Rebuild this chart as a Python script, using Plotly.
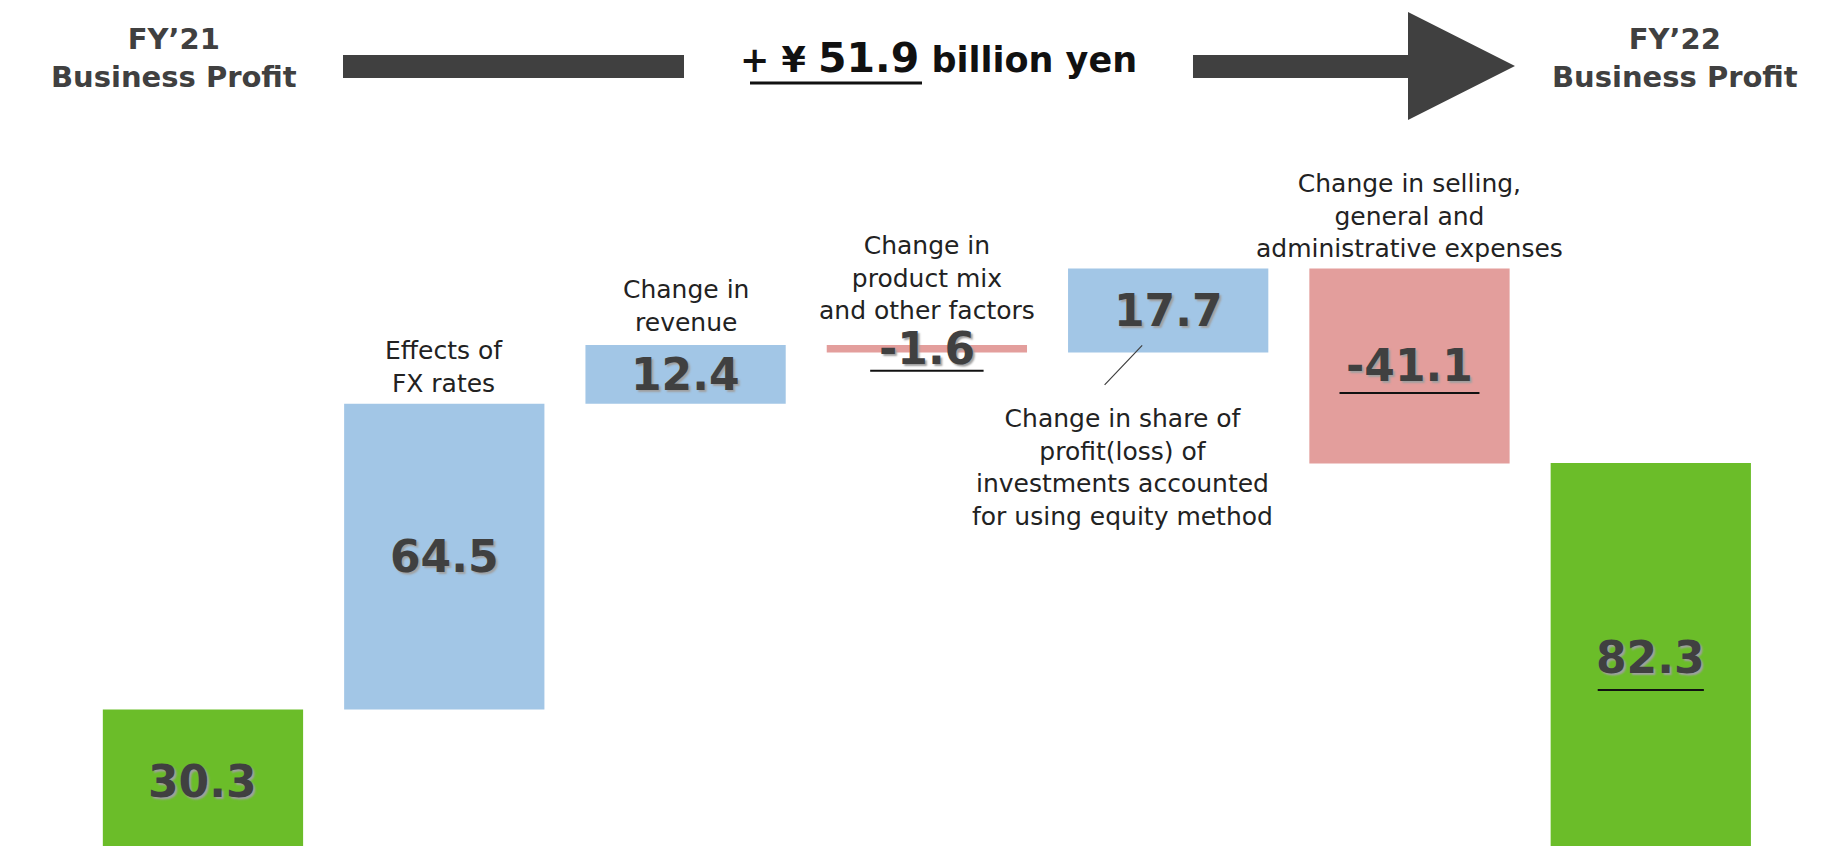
import plotly.graph_objects as go

# data (billion yen)
categories = ["FY'21", "FX", "Revenue", "Mix", "Equity", "SG&A", "FY'22"]
values = [30.3, 64.5, 12.4, -1.6, 17.7, -41.1, 82.3]
measures = ["absolute", "relative", "relative", "relative", "relative", "relative", "absolute"]
value_labels = ["30.3", "64.5", "12.4", "-1.6", "17.7", "-41.1", "82.3"]
top_labels = {
    "FX": "Effects of<br>FX rates",
    "Revenue": "Change in<br>revenue",
    "Mix": "Change in<br>product mix<br>and other factors",
    "SG&A": "Change in selling,<br>general and<br>administrative expenses",
}
equity_label = "Change in share of<br>profit(loss) of<br>investments accounted<br>for using equity method"
# half width (in bar units) and pixel drop of the underline below the value
underlined = {"Mix": (0.235, -22), "SG&A": (0.29, -27), "FY'22": (0.22, -32)}

# page body has an 8px margin, so the figure is a bit smaller than the window
OFF = 8
W, H = 1846 - OFF, 846 - OFF
GREEN = "#6bbd29"
BLUE = "#a2c6e6"
PINK = "#e39e9c"
DARK = "#404040"
FONT = "DejaVu Sans"


def px(x):
    return (x - OFF) / W


def py(y):
    return 1 - (y - OFF) / H


# bar start / end positions from the running total
starts, ends = [], []
run = 0.0
for m, v in zip(measures, values):
    if m == "absolute":
        s, e = 0.0, v
    else:
        s, e = run, run + v
    starts.append(s)
    ends.append(e)
    run = e

fig = go.Figure(go.Waterfall(
    x=categories,
    y=values,
    measure=measures,
    width=0.83,
    increasing=dict(marker=dict(color=BLUE)),
    decreasing=dict(marker=dict(color=PINK)),
    totals=dict(marker=dict(color=GREEN)),
    connector=dict(visible=False),
    hoverinfo="skip",
))

annotations = []
shapes = []

for cat, s, e, lab in zip(categories, starts, ends, value_labels):
    mid = (s + e) / 2
    annotations.append(dict(
        x=cat, y=mid, text=f"<b>{lab}</b>", showarrow=False,
        font=dict(family=FONT, size=44, color=DARK, shadow="2px 2px 2px #a0a0a0"),
        xanchor="center", yanchor="middle",
    ))
    if cat in underlined:
        i = categories.index(cat)
        hw, drop = underlined[cat]
        shapes.append(dict(
            type="line", xref="x", yref="y", x0=i - hw, x1=i + hw,
            y0=drop, y1=drop, ysizemode="pixel", yanchor=mid,
            line=dict(color="#111111", width=2),
        ))

label_shift = {"FX": 4, "Revenue": 6, "Mix": 18, "SG&A": 4}
for cat, txt in top_labels.items():
    i = categories.index(cat)
    annotations.append(dict(
        x=cat, y=max(starts[i], ends[i]), text=txt, showarrow=False,
        font=dict(family=FONT, size=25, color="#222222"),
        xanchor="center", yanchor="bottom", yshift=label_shift[cat],
    ))

# callout for the equity-method bar
i_eq = categories.index("Equity")
annotations.append(dict(
    x="Equity", y=starts[i_eq] + 1.5, xshift=-26, text="", showarrow=True,
    arrowhead=0, arrowwidth=1.2, arrowcolor="#404040", ax=-39, ay=41,
))
annotations.append(dict(
    x="Equity", y=starts[i_eq], xshift=-46, yshift=-50, text=equity_label, showarrow=False,
    font=dict(family=FONT, size=25, color="#222222"),
    xanchor="center", yanchor="top",
))

# header
for cx, txt in [(174, "FY’21<br>Business Profit"), (1675, "FY’22<br>Business Profit")]:
    annotations.append(dict(
        xref="paper", yref="paper", x=px(cx), y=py(58), text=f"<b>{txt}</b>",
        showarrow=False, font=dict(family=FONT, size=29, color=DARK),
        xanchor="center", yanchor="middle",
    ))
annotations.append(dict(
    xref="paper", yref="paper", x=px(938), y=py(58),
    text="<b>+ ¥ <span style='font-size:41px'>51.9</span> billion yen</b>",
    showarrow=False, font=dict(family=FONT, size=35, color="#111111"),
    xanchor="center", yanchor="middle",
))
shapes.append(dict(type="line", xref="paper", yref="paper",
                   x0=px(750), x1=px(922), y0=py(83), y1=py(83),
                   line=dict(color="#111111", width=3)))
shapes.append(dict(type="rect", xref="paper", yref="paper",
                   x0=px(343), x1=px(684), y0=py(78), y1=py(55),
                   fillcolor=DARK, line=dict(width=0)))
arrow_pts = [(1193, 55), (1408, 55), (1408, 12), (1515, 66), (1408, 120), (1408, 78), (1193, 78)]
path = "M " + " L ".join(f"{px(x):.5f},{py(y):.5f}" for x, y in arrow_pts) + " Z"
shapes.append(dict(type="path", xref="paper", yref="paper", path=path,
                   fillcolor=DARK, line=dict(width=0)))

fig.update_layout(
    width=W, height=H,
    margin=dict(l=0, r=0, t=0, b=0),
    paper_bgcolor="white", plot_bgcolor="white",
    showlegend=False,
    xaxis=dict(range=[-0.808, 6.809], visible=False, fixedrange=True),
    yaxis=dict(range=[1.48, 178.27], visible=False, fixedrange=True),
    annotations=annotations,
    shapes=shapes,
    font=dict(family=FONT),
)

fig.write_html("out.html")
